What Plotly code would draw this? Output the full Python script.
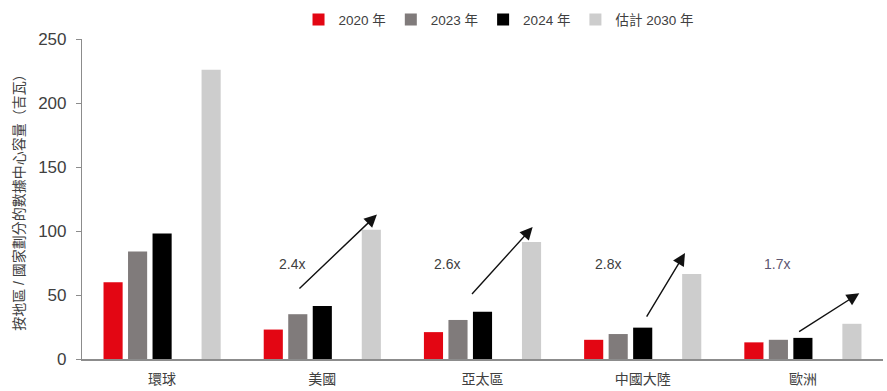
import plotly.graph_objects as go

categories = ["環球", "美國", "亞太區", "中國大陸", "歐洲"]
series_names = ["2020 年", "2023 年", "2024 年", "估計 2030 年"]
v2020 = [60, 23, 21, 15, 13]
v2023 = [84, 35, 30.5, 19.5, 15]
v2024 = [98, 41.5, 37, 24.5, 16.5]
v2030 = [226, 101, 91.5, 66.5, 27.5]
colors = ["#e30613", "#807b7b", "#000000", "#cdcdcd"]

growth_labels = ["2.4x", "2.6x", "2.8x", "1.7x"]
growth_label_colors = ["#404040", "#404040", "#404040", "#5c5670"]
# arrow geometry (category-index / value coordinates)
arrow_start_x = [0.848, 1.926, 3.019, 3.967]
arrow_start_y = [54.0, 49.6, 31.9, 20.6]
arrow_end_x = [1.341, 2.313, 3.264, 4.352]
arrow_end_y = [112.8, 103.1, 82.8, 51.4]
label_x = [0.811, 1.778, 2.783, 3.838]
label_y = [74.4, 74.4, 74.4, 74.4]

FONT = "Liberation Sans, Arial, Noto Sans CJK TC, sans-serif"
TXT = "#404040"

fig = go.Figure()
vals = [v2020, v2023, v2024]
for name, v, c in zip(series_names[:3], vals, colors[:3]):
    fig.add_trace(go.Bar(x=categories, y=v, name=name, marker_color=c,
                         marker_line_width=0, offsetgroup=name))
# empty spacer slot between 2024 and 2030
fig.add_trace(go.Bar(x=categories, y=[None] * len(categories), name="",
                     showlegend=False, offsetgroup="gap", hoverinfo="skip"))
fig.add_trace(go.Bar(x=categories, y=v2030, name=series_names[3],
                     marker_color=colors[3], marker_line_width=0,
                     offsetgroup=series_names[3]))

for i in range(len(growth_labels)):
    fig.add_annotation(x=arrow_end_x[i], y=arrow_end_y[i], xref="x", yref="y",
                       ax=arrow_start_x[i], ay=arrow_start_y[i], axref="x", ayref="y",
                       text="", showarrow=True, arrowhead=2, arrowsize=1.8,
                       arrowwidth=1.4, arrowcolor="#111111")
    fig.add_annotation(x=label_x[i], y=label_y[i], xref="x", yref="y",
                       text=growth_labels[i], showarrow=False,
                       font=dict(family=FONT, size=14, color=growth_label_colors[i]))

fig.update_layout(
    width=887, height=391,
    margin=dict(l=82, r=4, t=39, b=32),
    paper_bgcolor="white", plot_bgcolor="white",
    barmode="group", bargap=0.235, bargroupgap=0.22,
    font=dict(family=FONT, color=TXT),
    legend=dict(orientation="h", x=0.52, xanchor="center", y=1.06, yanchor="middle",
                font=dict(family=FONT, size=13.5, color=TXT),
                traceorder="normal", itemwidth=30),
    xaxis=dict(showline=True, linecolor="#8c8c8c", linewidth=1.5, ticks="",
               tickfont=dict(family=FONT, size=14, color=TXT), showgrid=False,
               ticklabelstandoff=6),
    yaxis=dict(range=[0, 250], dtick=50, showline=True, linecolor="#8c8c8c",
               linewidth=1.2, ticks="outside", ticklen=5, tickcolor="#8c8c8c",
               tickfont=dict(family=FONT, size=17, color=TXT), showgrid=False,
               zeroline=False, ticklabelstandoff=6,
               title=dict(text="按地區 / 國家劃分的數據中心容量（吉瓦）",
                          font=dict(family=FONT, size=14, color=TXT), standoff=10)),
)

fig.write_html("out.html", config={"displayModeBar": False},
               post_script="document.body.style.margin='0';")
